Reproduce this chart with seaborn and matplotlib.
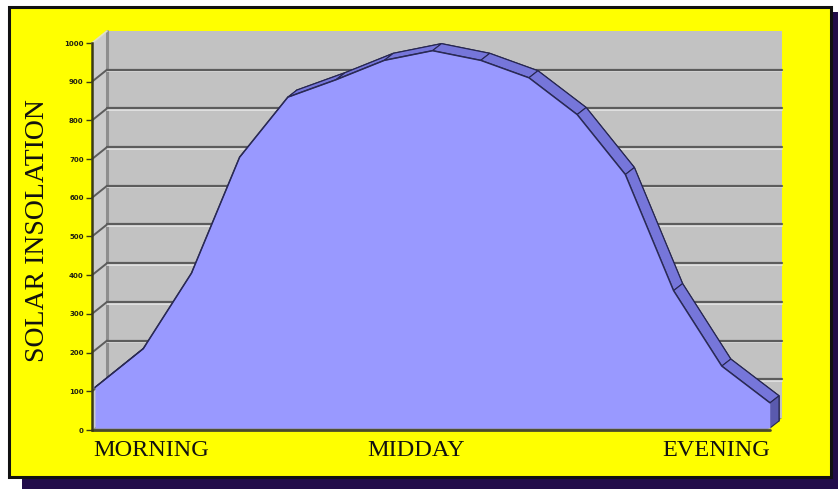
import numpy as np
import matplotlib
matplotlib.use("Agg")
import matplotlib.pyplot as plt
from matplotlib.patches import Rectangle, Polygon
from matplotlib.collections import PolyCollection
import seaborn as sns

# ---- data ----
hours = np.arange(15)                      # evenly spaced readings through the day
insolation = [105, 205, 400, 700, 855, 900, 950, 975, 950, 905, 810, 655, 355, 160, 65]
period_labels = ["MORNING", "MIDDAY", "EVENING"]
ytick_values = list(range(0, 1001, 100))
ylabel = "SOLAR INSOLATION"

sns.set_style("white")
plt.rcParams["font.family"] = ["DejaVu Sans"]

W, H = 838, 490
fig = plt.figure(figsize=(W / 100, H / 100), dpi=100)
fig.patch.set_facecolor("white")


def fx(px):
    return px / W


def fy(py):
    return 1 - py / H


# drop shadow and yellow panel with black frame
fig.patches.append(Rectangle((fx(22), fy(489)), fx(838 - 22), 477 / H,
                             transform=fig.transFigure, fc="#220c4a", ec="none", zorder=-10))
fig.patches.append(Rectangle((fx(9), fy(477)), fx(831 - 9), (477 - 7) / H,
                             transform=fig.transFigure, fc="#ffff00", ec="#111111", lw=2.2, zorder=-9))

ax = fig.add_axes([fx(92), 60 / H, 675 / W, 387 / H])
ax.set_xlim(0, 14)
ax.set_ylim(0, 1000)
ax.patch.set_visible(False)
for s in ["top", "right", "bottom"]:
    ax.spines[s].set_visible(False)
ax.spines["left"].set_color("#3b3b12")
ax.spines["left"].set_linewidth(1.8)
ax.spines["left"].set_zorder(8)

fig.canvas.draw()
sx = ax.bbox.width / 14.0
sy = ax.bbox.height / 1000.0


def depth(dx, dy):
    """pixel offset -> data offset"""
    return dx / sx, dy / sy


# walls
wx, wy = depth(15, 12)
ax.add_patch(Rectangle((wx, wy), 14, 1000, fc="#c2c2c2", ec="none", zorder=1, clip_on=False))
ax.add_patch(Polygon([(0, 0), (0, 1000), (wx, 1000 + wy), (wx, wy)], closed=True,
                     fc="#cbcbcb", ec="none", zorder=1, clip_on=False))
ax.plot([wx, wx], [wy, 1000 + wy], color="#8e8e8e", lw=2.2, zorder=1.5, clip_on=False)

hl = 1.6 / sy
for v in ytick_values[1:-1]:
    ax.plot([wx, 14 + wx], [v + wy - hl, v + wy - hl], color="#e6e6e6", lw=1.2, zorder=1.6, clip_on=False)
    ax.plot([wx, 14 + wx], [v + wy, v + wy], color="#5c5c5c", lw=1.6, zorder=1.7, clip_on=False)
    ax.plot([0, wx], [v, v + wy], color="#5c5c5c", lw=1.4, zorder=1.7, clip_on=False)
ax.plot([0, wx], [1000, 1000 + wy], color="#e0e0c8", lw=1.2, zorder=1.7, clip_on=False)

# floor
ax.add_patch(Polygon([(0, 0), (14, 0), (14 + wx, wy), (wx, wy)], closed=True,
                     fc="#8c8c8c", ec="none", zorder=2, clip_on=False))

# area: front face, top surface, back face
x = hours.astype(float)
y = np.array(insolation, dtype=float)
ox, oy = depth(3, 2)
ddx, ddy = depth(9, 7)
xf, yf = x + ox, y + oy

back = [(xf[0] + ddx, oy + ddy)] + list(zip(xf + ddx, yf + ddy)) + [(xf[-1] + ddx, oy + ddy)]
ax.add_patch(Polygon(back, closed=True, fc="#7373d6", ec="#222248", lw=1.0, zorder=3, clip_on=False))

quads = []
for i in range(len(x) - 1):
    quads.append([(xf[i], yf[i]), (xf[i + 1], yf[i + 1]),
                  (xf[i + 1] + ddx, yf[i + 1] + ddy), (xf[i] + ddx, yf[i] + ddy)])
ax.add_collection(PolyCollection(quads, facecolors="#7676da", edgecolors="#262650",
                                 linewidths=0.8, zorder=4, clip_on=False))
ax.add_patch(Polygon([(xf[-1], oy), (xf[-1], yf[-1]), (xf[-1] + ddx, yf[-1] + ddy), (xf[-1] + ddx, oy + ddy)],
                     closed=True, fc="#5a5aae", ec="#262650", lw=0.8, zorder=4, clip_on=False))

ax.fill_between(xf, oy, yf, color="#9999ff", lw=0, zorder=5, clip_on=False)
sns.lineplot(x=xf, y=yf, ax=ax, color="#2a2a55", lw=1.1, zorder=6, clip_on=False)
ax.plot([0, 14 + ox], [0, 0], color="#4a4a2a", lw=2.0, zorder=7, clip_on=False)

# ticks and labels
ax.set_xticks([])
ax.set_yticks(ytick_values)
ax.set_yticklabels([str(v) for v in ytick_values], fontsize=5, fontweight="bold", color="#222211")
ax.tick_params(axis="y", direction="out", length=4, width=1.0, color="#3b3b12", pad=2, left=True)

serif = ["Liberation Serif", "DejaVu Serif"]
label_y = -(450 - 430) / 387
ax.text((93 - 92) / sx, label_y, period_labels[0], transform=ax.get_xaxis_transform(),
        ha="left", va="center", fontsize=17.5, family=serif, color="#111111")
ax.text((416 - 92) / sx, label_y, period_labels[1], transform=ax.get_xaxis_transform(),
        ha="center", va="center", fontsize=17.5, family=serif, color="#111111")
ax.text((770 - 92) / sx, label_y, period_labels[2], transform=ax.get_xaxis_transform(),
        ha="right", va="center", fontsize=17.5, family=serif, color="#111111")

fig.text(fx(37), fy(231), ylabel, rotation=90, ha="center", va="center",
         fontsize=20, family=serif, color="#111111")

fig.savefig("out.png", dpi=100)
